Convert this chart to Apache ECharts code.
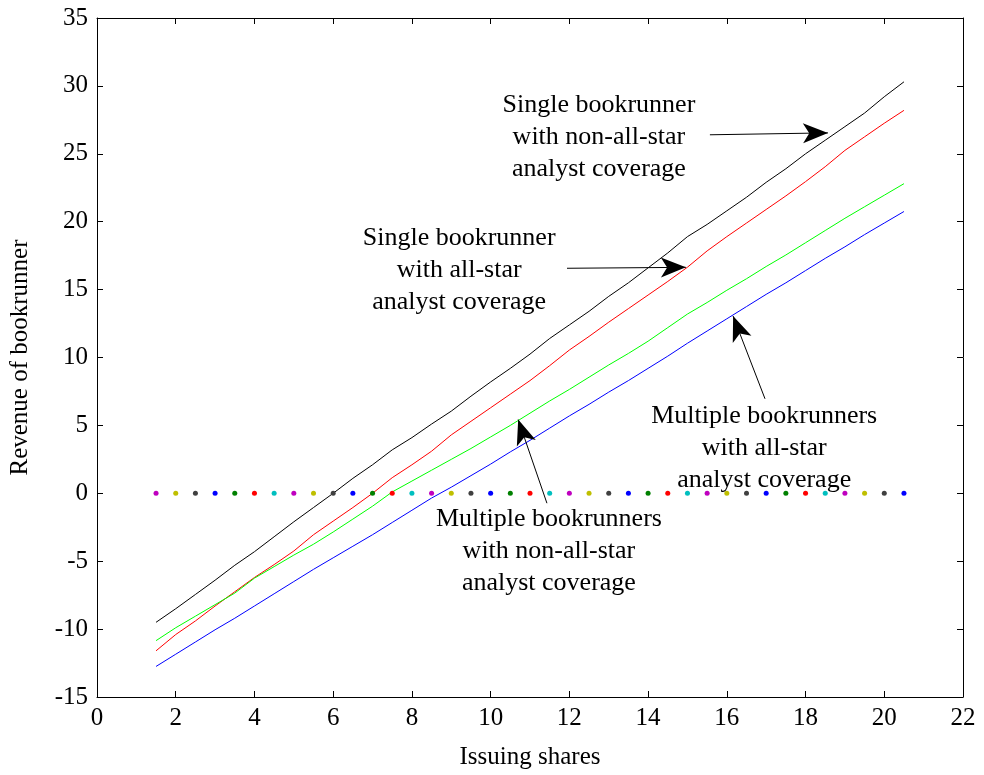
<!DOCTYPE html>
<html>
<head>
<meta charset="utf-8">
<script src="https://cdn.jsdelivr.net/npm/echarts@6/dist/echarts.min.js"></script>
<style>
  html, body { margin: 0; padding: 0; background: #fff; }
  #main { width: 984px; height: 775px; }
</style>
</head>
<body>
<div id="main"></div>
<script>
// issuing shares (x)
var shares = [1.5, 2, 2.5, 3, 3.5, 4, 4.5, 5, 5.5, 6, 6.5, 7, 7.5, 8, 8.5, 9, 9.5, 10, 10.5, 11,
  11.5, 12, 12.5, 13, 13.5, 14, 14.5, 15, 15.5, 16, 16.5, 17, 17.5, 18, 18.5, 19, 19.5, 20, 20.5];

// revenue of bookrunner, one list per case
var singleNonAllStar = [-9.5, -8.5, -7.45, -6.4, -5.3, -4.3, -3.2, -2.1, -1.05, 0, 1.1, 2.1, 3.2, 4.1, 5.1, 6.05, 7.15, 8.2, 9.2, 10.25,
  11.4, 12.4, 13.4, 14.5, 15.5, 16.6, 17.7, 18.9, 19.8, 20.8, 21.8, 22.9, 23.9, 25.0, 26.0, 27.0, 28.0, 29.2, 30.3];
var singleAllStar = [-11.6, -10.4, -9.4, -8.3, -7.25, -6.2, -5.25, -4.25, -3.05, -2.05, -1.05, 0, 1.15, 2.1, 3.1, 4.3, 5.3, 6.3, 7.3, 8.3,
  9.4, 10.55, 11.55, 12.6, 13.6, 14.6, 15.6, 16.65, 17.85, 18.9, 19.9, 20.9, 21.9, 22.95, 24.05, 25.25, 26.25, 27.25, 28.2];
var multiNonAllStar = [-10.85, -9.9, -9.05, -8.2, -7.35, -6.25, -5.4, -4.55, -3.75, -2.85, -1.9, -0.95, 0.1, 0.9, 1.7, 2.5, 3.3, 4.15, 5.0, 5.9,
  6.8, 7.65, 8.55, 9.45, 10.3, 11.2, 12.2, 13.2, 14.05, 14.95, 15.8, 16.7, 17.55, 18.45, 19.35, 20.25, 21.1, 21.95, 22.8];
var multiAllStar = [-12.75, -11.85, -10.95, -10.05, -9.2, -8.3, -7.4, -6.5, -5.6, -4.75, -3.9, -3.05, -2.15, -1.25, -0.35, 0.45, 1.3, 2.15, 3.05, 3.9,
  4.8, 5.7, 6.55, 7.45, 8.3, 9.2, 10.1, 11.05, 11.95, 12.85, 13.75, 14.65, 15.5, 16.4, 17.3, 18.15, 19.05, 19.9, 20.75];

// zero reference dots
var zeroLine = [0, 0, 0, 0, 0, 0, 0, 0, 0, 0, 0, 0, 0, 0, 0, 0, 0, 0, 0, 0,
  0, 0, 0, 0, 0, 0, 0, 0, 0, 0, 0, 0, 0, 0, 0, 0, 0, 0, 0];
var dotColors = ['#bf00bf', '#bfbf00', '#404040', '#0000ff', '#008000', '#ff0000', '#00bfbf'];

// annotations: text position, arrow tail, arrow tip
var noteText = [
  'Single bookrunner\nwith non-all-star\nanalyst coverage',
  'Single bookrunner\nwith all-star\nanalyst coverage',
  'Multiple bookrunners\nwith all-star\nanalyst coverage',
  'Multiple bookrunners\nwith non-all-star\nanalyst coverage'
];
var notePos = [[12.75, 26.25], [9.2, 16.4], [16.95, 3.3], [11.48, -4.25]];
var arrowFrom = [[15.57, 26.4], [11.94, 16.57], [16.97, 6.96], [11.43, -0.73]];
var arrowTo = [[18.57, 26.54], [14.96, 16.64], [16.16, 13.05], [10.7, 5.43]];

var FONT = '"Liberation Serif", "Times New Roman", serif';

function pairs(xv, yv) {
  var out = [];
  for (var i = 0; i < xv.length; i++) out.push([xv[i], yv[i]]);
  return out;
}

function lineSeries(name, vals, color) {
  return {
    name: name,
    type: 'line',
    data: pairs(shares, vals),
    showSymbol: false,
    symbol: 'none',
    lineStyle: { color: color, width: 1 },
    z: 3
  };
}

function axisBase() {
  return {
    axisLine: { show: true, onZero: false, lineStyle: { color: '#000', width: 1 } },
    axisTick: { show: true, inside: true, length: 6, lineStyle: { color: '#000' } },
    splitLine: { show: false }
  };
}

var chart = echarts.init(document.getElementById('main'));
var option = {
  animation: false,
  backgroundColor: '#fff',
  grid: { left: 97, right: 21, top: 18, bottom: 75 },
  xAxis: [
    Object.assign(axisBase(), {
      type: 'value', min: 0, max: 22, interval: 2, position: 'bottom',
      name: 'Issuing shares', nameLocation: 'middle', nameGap: 48,
      nameTextStyle: { fontFamily: FONT, fontSize: 25, color: '#000' },
      axisLabel: { fontFamily: FONT, fontSize: 25, color: '#000', margin: 9 }
    }),
    Object.assign(axisBase(), {
      type: 'value', min: 0, max: 22, interval: 2, position: 'top',
      axisLabel: { show: false }
    })
  ],
  yAxis: [
    Object.assign(axisBase(), {
      type: 'value', min: -15, max: 35, interval: 5, position: 'left',
      name: 'Revenue of bookrunner', nameLocation: 'middle', nameGap: 64,
      nameTextStyle: { fontFamily: FONT, fontSize: 25, color: '#000' },
      axisLabel: { fontFamily: FONT, fontSize: 25, color: '#000', margin: 9 }
    }),
    Object.assign(axisBase(), {
      type: 'value', min: -15, max: 35, interval: 5, position: 'right',
      axisLabel: { show: false }
    })
  ],
  series: [
    lineSeries('Single bookrunner, non-all-star', singleNonAllStar, '#000000'),
    lineSeries('Single bookrunner, all-star', singleAllStar, '#ff0000'),
    lineSeries('Multiple bookrunners, non-all-star', multiNonAllStar, '#00ff00'),
    lineSeries('Multiple bookrunners, all-star', multiAllStar, '#0000ff'),
    {
      name: 'zero',
      type: 'scatter',
      data: pairs(shares, zeroLine),
      symbolSize: 5,
      itemStyle: {
        opacity: 1,
        color: function (p) { return dotColors[p.dataIndex % dotColors.length]; }
      },
      z: 4
    },
    {
      name: 'notes',
      type: 'scatter',
      symbolSize: 0,
      itemStyle: { opacity: 1, color: '#000' },
      data: notePos.map(function (p, i) { return { value: p, name: noteText[i] }; }),
      label: {
        show: true,
        position: 'inside',
        formatter: function (p) { return p.name; },
        fontFamily: FONT,
        fontSize: 26,
        lineHeight: 32,
        color: '#000',
        textBorderWidth: 0,
        align: 'center',
        verticalAlign: 'middle'
      },
      markLine: {
        silent: true,
        symbol: ['none', 'arrow'],
        symbolSize: [15, 25],
        label: { show: false },
        lineStyle: { color: '#000', width: 1, type: 'solid', opacity: 1 },
        itemStyle: { color: '#000' },
        data: arrowFrom.map(function (a, i) {
          return [{ coord: a }, { coord: arrowTo[i] }];
        })
      },
      z: 5
    }
  ]
};
chart.setOption(option);
</script>
</body>
</html>
